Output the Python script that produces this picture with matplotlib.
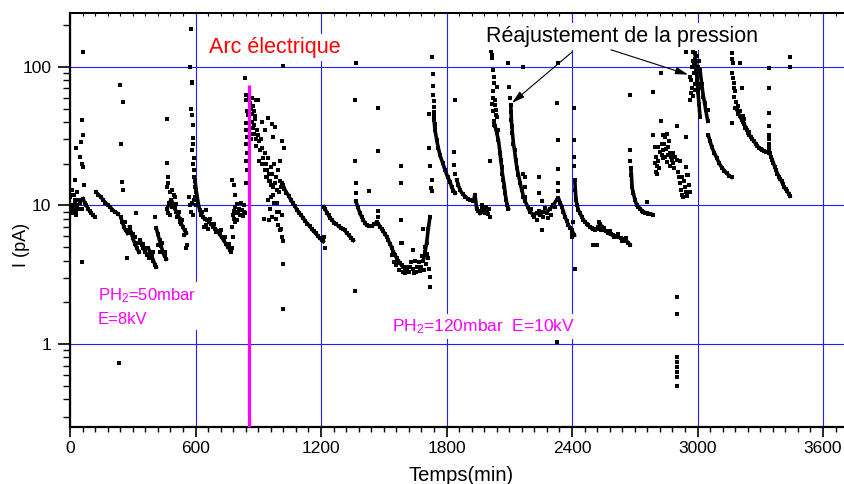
import numpy as np
import matplotlib
matplotlib.use('Agg')
import matplotlib.pyplot as plt
from matplotlib.ticker import MultipleLocator, LogLocator, FuncFormatter, NullFormatter

plt.rcParams['font.family'] = ['Liberation Sans', 'DejaVu Sans']
plt.rcParams['mathtext.fontset'] = 'custom'
plt.rcParams['mathtext.rm'] = 'Liberation Sans'
plt.rcParams['mathtext.it'] = 'Liberation Sans:italic'

## the data : (time in min, current in pA)
# continuous decays of the current
decay01 = [(62, 11.2), (70, 10.5), (78, 10.0), (86, 9.5), (94, 9.1), (102, 8.8), (110, 8.5), (118, 8.3)]
decay02 = [(125, 12.5), (135, 12.0), (148, 11.5), (158, 11.0), (168, 10.5), (180, 10.1), (191, 9.8),
           (203, 9.3), (215, 9.0), (230, 8.7)]
decay03 = [(243, 8.2), (250, 7.6), (258, 7.0), (266, 6.6), (275, 6.3)]
decay04 = [(285, 7.0), (293, 6.3), (301, 5.8), (310, 5.3), (320, 4.9), (330, 4.6)]
decay05 = [(335, 5.6), (343, 5.2), (351, 4.9), (360, 4.6), (370, 4.4), (380, 4.2)]
decay06 = [(375, 4.9), (383, 4.6), (391, 4.3), (399, 4.0), (407, 3.7), (412, 3.6)]
decay07 = [(412, 6.9), (420, 6.2), (428, 5.6), (436, 5.1), (444, 4.6), (452, 4.3), (460, 4.1)]
decay08 = [(465, 9.5), (475, 10.5), (485, 11.0), (492, 10.2), (500, 9.6), (508, 9.0), (516, 8.6),
           (524, 8.0), (532, 7.4), (540, 7.0), (548, 6.6), (556, 6.3)]
decay09 = [(598, 15), (603, 13), (608, 11.5), (614, 10.2), (620, 9.3), (628, 8.6), (636, 8.2),
           (645, 8.0), (655, 7.9), (665, 7.6), (675, 7.3), (685, 7.0), (695, 6.8), (705, 6.5),
           (715, 6.2), (725, 5.9), (735, 5.6), (745, 5.3), (755, 5.0), (765, 4.8)]
decay10 = [(1015, 14.5), (1025, 13.2), (1035, 12.4), (1045, 11.8), (1055, 11.0), (1065, 10.4),
           (1075, 9.9), (1085, 9.3), (1095, 8.9), (1105, 8.5), (1115, 8.1), (1125, 7.7), (1135, 7.4),
           (1145, 7.1), (1155, 6.8), (1165, 6.5), (1175, 6.3), (1185, 6.0), (1195, 5.8), (1205, 5.6),
           (1211, 5.5)]
decay11 = [(1213, 9.8), (1220, 9.4), (1228, 8.9), (1236, 8.5), (1244, 8.1), (1254, 7.8), (1264, 7.5),
           (1274, 7.3), (1284, 7.1), (1294, 6.9), (1304, 6.8), (1314, 6.6), (1324, 6.3), (1334, 6.1),
           (1344, 5.8), (1354, 5.6)]
decay12 = [(1367, 10.7), (1376, 9.7), (1386, 8.8), (1394, 8.3), (1402, 7.85), (1410, 7.5), (1418, 7.2),
           (1430, 7.1), (1442, 7.1), (1454, 7.3), (1466, 7.6), (1474, 7.4), (1482, 7.0), (1490, 6.8),
           (1498, 6.5), (1506, 6.2), (1514, 5.95), (1522, 5.6), (1530, 5.3), (1538, 4.95), (1546, 4.65),
           (1554, 4.4), (1562, 4.15), (1570, 4.0), (1578, 3.83), (1586, 3.7), (1593, 3.6), (1601, 3.55),
           (1609, 3.5)]
decay13 = [(1689, 4.0), (1697, 4.6), (1705, 5.4), (1713, 6.8), (1721, 8.3)]
decay14 = [(1740, 41.6), (1745, 35), (1753, 29.7), (1761, 26), (1769, 23), (1782, 20.2), (1793, 18),
           (1805, 16.1), (1817, 14.8), (1825, 13.5), (1833, 12.8), (1841, 12.3)]
decay15 = [(1849, 15.3), (1857, 14.0), (1865, 12.9), (1877, 12.1), (1889, 11.6), (1901, 11.2),
           (1913, 11.0), (1928, 10.7), (1936, 12.0), (1944, 9.5), (1952, 9.1), (1960, 8.8)]
decay16 = [(2032, 37.5), (2040, 33.5), (2048, 29.7), (2056, 24), (2059, 21.3), (2064, 19), (2067, 17),
           (2072, 15.3), (2077, 13.6), (2080, 12.3), (2085, 11), (2090, 10.1), (2096, 9.5)]
decay17 = [(2107, 53), (2109, 47), (2110, 41.6), (2112, 37.5), (2115, 33.5), (2120, 28), (2125, 25),
           (2131, 21.3), (2137, 18.5), (2144, 16.6), (2152, 14.5), (2160, 12.9), (2168, 11.6),
           (2176, 10.7), (2188, 9.8), (2199, 9.0), (2215, 8.6), (2231, 8.8), (2247, 8.6), (2263, 9.0),
           (2279, 8.9), (2295, 9.5), (2311, 10.1), (2327, 11.0)]
decay18 = [(2335, 11.3), (2343, 10.5), (2351, 9.8), (2359, 9.0), (2367, 8.3), (2375, 7.7), (2383, 7.2),
           (2391, 6.9), (2399, 6.65), (2411, 6.1)]
decay19 = [(2413, 15.3), (2416, 12.9), (2419, 11.0), (2424, 10.1), (2430, 9.3), (2438, 8.8), (2446, 8.3),
           (2454, 7.9), (2462, 7.6), (2470, 7.4), (2478, 7.2), (2486, 7.0), (2494, 6.9), (2502, 6.8),
           (2510, 6.65), (2518, 6.8), (2526, 7.0), (2534, 7.4), (2542, 7.0), (2550, 6.65), (2562, 6.5),
           (2574, 6.3), (2586, 6.2), (2598, 6.1), (2610, 6.0), (2622, 5.9), (2634, 5.8), (2646, 5.7),
           (2658, 5.55), (2669, 5.4), (2677, 5.2)]
decay20 = [(2681, 18.5), (2684, 16.6), (2687, 13.6), (2693, 12.3), (2701, 11.0), (2709, 10.1),
           (2717, 9.8), (2725, 9.5), (2733, 9.2), (2741, 9.0), (2749, 8.9), (2757, 8.8), (2765, 8.75),
           (2773, 8.7), (2786, 8.6)]
decay21 = [(2988, 126), (2993, 99), (2998, 80), (3002, 65.8), (3007, 54), (3012, 43.8)]
decay22 = [(3012, 95), (3020, 75), (3028, 61), (3034, 55), (3039, 49), (3049, 40.5)]
decay23 = [(3052, 32), (3060, 29), (3068, 26.5), (3080, 24), (3092, 22), (3103, 20.2), (3116, 18.8),
           (3128, 17.8), (3139, 17.1), (3152, 16.4), (3163, 16.0)]
decay24 = [(3187, 49.5), (3195, 46), (3203, 44), (3211, 41.6), (3218, 40), (3224, 38.5), (3230, 36.5),
           (3235, 35), (3242, 33.5), (3248, 32.5), (3255, 31), (3262, 30), (3270, 29), (3278, 28),
           (3286, 27), (3294, 26), (3302, 25.5), (3310, 25), (3318, 24.7), (3326, 24.5), (3334, 24.2),
           (3342, 24)]
decay25 = [(3345, 24), (3351, 22.5), (3357, 21.3), (3363, 20.2), (3369, 19), (3375, 18), (3382, 17),
           (3390, 16.1), (3396, 15.5), (3402, 14.9), (3408, 14.2), (3415, 13.6), (3421, 13.1),
           (3428, 12.7), (3435, 12.2), (3442, 11.7)]

decays = [decay01, decay02, decay03, decay04, decay05, decay06, decay07, decay08, decay09, decay10,
          decay11, decay12, decay13, decay14, decay15, decay16, decay17, decay18, decay19, decay20,
          decay21, decay22, decay23, decay24, decay25]

# scattered single readings
dots_a = [(2, 11.5), (5, 9.5), (8, 12), (12, 10), (15, 8.8), (18, 9.5), (22, 11), (25, 10.5), (28, 9),
          (32, 12.5), (35, 10), (38, 9.5), (42, 11), (10, 13), (20, 12), (30, 26), (22, 15.3), (50, 22.5),
          (55, 20), (60, 19), (65, 14), (57, 41.5), (51, 28.5), (60, 32.2), (57, 3.9), (64, 128),
          (30, 8.5), (48, 10.5), (55, 9.5)]
dots_b = [(237, 74.5), (253, 56), (242, 28), (248, 14.8), (253, 13), (273, 4.2), (235, 0.73), (317, 8.9),
          (407, 8.3), (300, 6.2), (310, 5.9), (325, 5.4), (350, 5.3), (365, 4.9), (395, 4.6), (420, 5.2),
          (430, 4.6), (440, 5.4), (455, 4.6), (262, 7.6), (280, 6.6)]
dots_c = [(463, 42), (465, 20.2), (468, 16), (470, 14.5), (466, 13.5), (478, 12.5), (488, 13), (495, 12),
          (470, 8.8), (480, 8.5), (500, 11.5), (558, 5.2), (556, 4.9), (490, 9.8), (505, 10.2), (512, 8.2),
          (520, 9.0), (528, 7.6), (536, 7.9), (545, 6.1),
          (577, 188), (575, 100), (582, 78), (585, 76), (578, 50), (583, 45), (588, 38), (588, 30.6),
          (590, 28), (585, 25), (592, 22), (590, 20), (595, 18), (593, 16), (597, 15.3), (596, 13.5),
          (600, 12.5), (592, 11), (585, 10.5), (575, 10), (570, 11.5), (598, 11.5), (600, 10), (580, 9),
          (587, 8.5)]
dots_d = [(640, 7.0), (650, 7.2), (660, 6.8), (648, 9.3), (670, 8.0), (632, 9.0), (690, 7.4), (700, 6.4),
          (720, 6.6), (740, 5.9), (760, 5.3),
          (778, 8.5), (782, 9.2), (786, 8.0), (790, 9.8), (795, 8.8), (800, 10.2), (805, 9.0), (810, 9.5),
          (815, 8.6), (818, 10.5), (822, 9.3), (826, 8.4), (830, 10.0), (834, 9.0), (838, 8.8), (790, 7.6),
          (800, 7.9), (775, 15.3), (785, 14), (790, 12), (774, 7.0), (777, 5.9), (770, 4.6), (775, 4.9)]
dots_arc = [(837, 83), (843, 63), (843, 58), (846, 48), (843, 39.4), (841, 35), (845, 31), (843, 28),
            (846, 24), (842, 21), (845, 18), (843, 14.5),
            (861, 55), (865, 50), (868, 46), (872, 60), (876, 52), (880, 48), (884, 44), (870, 40),
            (878, 38), (886, 42), (890, 58), (900, 58), (856, 62), (852, 45),
            (875, 36), (882, 33), (890, 30), (895, 35), (900, 32), (905, 29), (888, 27), (860, 33), (866, 30),
            (915, 30), (920, 26), (925, 22), (930, 24), (935, 20), (940, 18), (945, 22), (950, 17),
            (955, 15), (960, 19), (935, 16), (910, 25), (905, 21),
            (948, 43), (964, 39), (980, 37), (972, 31), (1012, 29), (1025, 26), (1004, 21), (918, 40),
            (930, 35),
            (920, 20), (930, 18), (940, 16), (950, 15), (960, 14), (970, 13.5), (980, 14.5), (990, 13),
            (1000, 12.5), (1010, 13.5), (1020, 14), (965, 17), (985, 16), (1005, 15), (995, 18), (975, 20),
            (945, 11), (955, 9.5), (965, 8.3), (975, 10.5), (985, 8.0), (995, 7.2), (1000, 9.0),
            (1010, 6.8), (1015, 8.5), (950, 7.8), (929, 8.0), (988, 10.4), (990, 9.0), (1004, 6.6),
            (1012, 5.9), (1020, 5.5), (1018, 3.8), (1019, 1.79), (1019, 101), (970, 12), (960, 11.5)]
dots_e = [(1219, 4.9), (1215, 5.9), (1363, 58), (1363, 21), (1367, 14.5), (1367, 12.3), (1367, 107),
          (1363, 2.4), (1430, 12.7), (1474, 50.6), (1474, 24.7), (1474, 9.1), (1474, 8.2), (1583, 19.3),
          (1583, 14.5), (1583, 7.85), (1583, 5.4), (1587, 5.35),
          (1540, 4.4), (1560, 3.7), (1575, 3.4), (1590, 3.3), (1600, 3.25), (1612, 3.4), (1620, 3.3),
          (1630, 3.9), (1640, 3.5), (1641, 4.77), (1650, 4.0), (1655, 3.3), (1660, 3.6), (1670, 3.9),
          (1673, 3.35), (1680, 3.6), (1685, 4.3), (1690, 3.4), (1695, 5.0), (1700, 3.8), (1705, 4.5),
          (1710, 4.2), (1689, 6.8), (1715, 3.5), (1625, 3.6), (1645, 3.25), (1605, 3.6), (1565, 4.0),
          (1550, 3.9),
          (1721, 3.05), (1719, 2.58), (1718, 46), (1718, 26), (1721, 19.3), (1729, 15.3), (1726, 13.3),
          (1729, 12.7), (1731, 118), (1733, 89), (1736, 73), (1737, 63), (1738, 56.4), (1739, 51),
          (1740, 47), (1741, 44), (1743, 39), (1745, 37)]
dots_f = [(1841, 58), (1838, 24.3), (1838, 19.6), (1841, 17),
          (1968, 10), (1975, 9.0), (1980, 9.6), (1985, 8.8), (1990, 9.8), (1995, 9.2), (2000, 8.7),
          (2005, 9.5), (2008, 8.3), (1972, 9.5), (1988, 9.0), (2006, 21),
          (2013, 131), (2016, 122), (2019, 116), (2021, 95), (2029, 85), (2026, 76), (2040, 72),
          (2024, 67), (2032, 58), (2030, 53), (2035, 49), (2016, 54), (2040, 43.8), (2028, 41),
          (2036, 45), (2025, 38), (2044, 35), (2020, 60), (2022, 48)]
dots_g = [(2096, 106), (2099, 72), (2104, 59.5), (2168, 100), (2168, 17), (2176, 16), (2176, 13.5),
          (2176, 11.5), (2244, 16.1), (2244, 12.3), (2255, 6.6), (2231, 7.9), (2263, 8.3), (2287, 8.1),
          (2255, 10.7), (2205, 9.5), (2220, 8.2), (2240, 9.2), (2270, 9.6), (2300, 8.6), (2320, 9.8),
          (2333, 107), (2327, 55), (2332, 29.7), (2335, 18.2), (2334, 14.5), (2335, 12.7), (2328, 1.03),
          (2410, 50.3), (2410, 29.7), (2411, 22.5), (2411, 19.2), (2405, 7.6), (2398, 6.3), (2402, 5.95),
          (2412, 3.5)]
dots_h = [(2502, 5.2), (2518, 5.2), (2530, 7.6), (2540, 6.6), (2555, 6.9), (2580, 6.5), (2600, 5.95),
          (2620, 6.2), (2640, 5.5), (2660, 5.8), (2677, 62.8), (2677, 25.2), (2679, 21), (2760, 10.6)]
dots_i = [(2789, 66), (2824, 90), (2824, 41), (2789, 32), (2797, 26.5), (2802, 22.5), (2805, 19.2),
          (2808, 17), (2813, 26.5), (2821, 24.5), (2829, 28), (2837, 25), (2845, 22.5), (2853, 20.7),
          (2861, 26.5), (2869, 24), (2877, 21.3), (2885, 20.2), (2853, 33), (2845, 31.4), (2837, 32),
          (2797, 20.2), (2802, 17.5), (2869, 19.2), (2901, 21.3), (2900, 37.5), (2945, 31), (2810, 21),
          (2816, 18.8), (2828, 23), (2833, 22), (2841, 28), (2849, 25.5), (2857, 23), (2865, 29),
          (2873, 22.5), (2881, 24), (2889, 18.5), (2893, 22.5),
          (2910, 16), (2915, 14.5), (2920, 13), (2925, 12), (2930, 11.5), (2935, 15), (2940, 13.5),
          (2945, 12.5), (2950, 11.8), (2955, 16.5), (2960, 14), (2962, 12.5), (2917, 21), (2945, 19),
          (2948, 16.6), (2905, 17.5), (2928, 16),
          (2902, 2.18), (2902, 1.65), (2902, 0.81), (2902, 0.745), (2902, 0.686), (2902, 0.63),
          (2902, 0.58), (2902, 0.5)]
dots_j = [(2945, 128), (2966, 58), (2970, 80), (2975, 100), (2978, 110), (2982, 90), (2986, 75),
          (2990, 68), (2994, 95), (2980, 129), (2972, 70), (2968, 65), (2984, 105), (2976, 62),
          (2964, 85), (2990, 115), (2998, 120), (3000, 100), (3005, 110), (3004, 75), (3008, 70),
          (3052, 49)]
dots_k = [(3163, 126), (3166, 114), (3171, 107), (3166, 91), (3171, 83), (3176, 76), (3174, 70.6),
          (3179, 67), (3176, 61), (3182, 55.7), (3179, 50.6), (3163, 39.4), (3211, 70.6), (3203, 107),
          (3195, 52), (3205, 48), (3215, 44), (3220, 42), (3228, 36), (3245, 34),
          (3342, 98), (3342, 70.6), (3342, 46.6), (3342, 37.5), (3342, 32), (3342, 30), (3344, 28),
          (3344, 26.5), (3342, 25), (3443, 118), (3443, 100)]

dots = dots_a + dots_b + dots_c + dots_d + dots_arc + dots_e + dots_f + dots_g + dots_h + dots_i + dots_j + dots_k

arc_time = 857     # arc (min)
arc_top = 74       # top of the marker line (pA)

x_ticks = [0, 600, 1200, 1800, 2400, 3000, 3600]
y_ticks = [1, 10, 100]

magenta = '#ff00ff'
blue = '#1f1fff'

fig = plt.figure(figsize=(8.45, 4.84), dpi=100)
ax = fig.add_axes([70/845, 1 - 427/484, 775/845, 414/484])

ax.set_yscale('log')
ax.set_xlim(0, 3705)
ax.set_ylim(0.252, 245)

# data
for run in decays:
    t, i = zip(*run)
    ax.plot(t, i, '-', color='k', lw=2.6, marker='s', ms=3.0, mew=0, zorder=3)
dt, di = zip(*dots)
ax.plot(dt, di, 's', color='k', ms=3.0, mew=0, linestyle='none', zorder=3)

# arc line
ax.vlines(arc_time, ax.get_ylim()[0], arc_top, color=magenta, lw=2.3, zorder=5)

# grid and ticks
ax.set_axisbelow(True)
ax.grid(True, which='major', color=blue, lw=0.8)
ax.set_xticks(x_ticks)
ax.xaxis.set_minor_locator(MultipleLocator(60))
ax.set_yticks(y_ticks)
ax.yaxis.set_major_formatter(FuncFormatter(lambda v, p: '%g' % v))
ax.yaxis.set_minor_locator(LogLocator(base=10, subs=np.arange(2, 10)))
ax.yaxis.set_minor_formatter(NullFormatter())

ax.tick_params(axis='x', which='major', direction='out', length=7, width=1.2, labelsize=12.5, pad=3)
ax.tick_params(axis='x', which='minor', direction='out', length=3.5, width=1.0)
ax.tick_params(axis='y', which='major', direction='out', length=8.5, width=1.2, labelsize=12.5, pad=5)
ax.tick_params(axis='y', which='minor', direction='out', length=5, width=1.0)

top = ax.secondary_xaxis('top')
top.xaxis.set_minor_locator(MultipleLocator(60))
top.set_xticks(x_ticks)
top.tick_params(which='both', direction='in', length=2, width=0.8, labeltop=False)

for s in ['left', 'bottom']:
    ax.spines[s].set_linewidth(1.6)
ax.spines['top'].set_linewidth(1.3)
ax.spines['right'].set_visible(False)
top.spines['top'].set_linewidth(1.3)

# labels
fig.text(461/845, 1 - 481/484, 'Temps(min)', ha='center', va='baseline', fontsize=14.5)
fig.text(22/845, 1 - 245/484, 'I (pA)', ha='center', va='center', rotation=90, fontsize=13)

box = dict(facecolor='white', edgecolor='none', pad=2)
ax.text(980, 126, 'Arc électrique', color='#ff0000', fontsize=15.5, ha='center', va='baseline',
        bbox=box, zorder=6)
ax.text(2639, 151, 'Réajustement de la pression', color='k', fontsize=15.5, ha='center',
        va='baseline', bbox=box, zorder=6)
ax.text(134, 1.85, 'PH$_2$=50mbar\nE=8kV', color=magenta, fontsize=12, ha='left', va='center',
        linespacing=1.6, bbox=box, zorder=6)
ax.text(1539, 1.24, 'PH$_2$=120mbar  E=10kV', color=magenta, fontsize=12.5, ha='left',
        va='baseline', bbox=box, zorder=6)

arrow = dict(arrowstyle='-|>,head_length=0.7,head_width=0.2', color='k', lw=0.8,
             shrinkA=0, shrinkB=0, mutation_scale=11)
ax.annotate('', xy=(2113, 55), xytext=(2400, 128), arrowprops=arrow, zorder=6)
ax.annotate('', xy=(2955, 88), xytext=(2586, 133), arrowprops=arrow, zorder=6)

fig.savefig('out.png', dpi=100)
